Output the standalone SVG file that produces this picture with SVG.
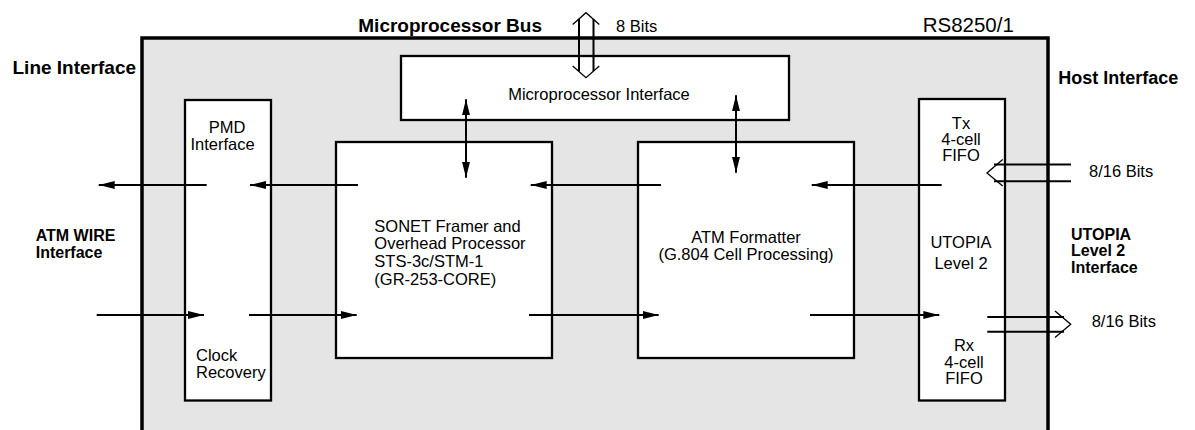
<svg xmlns="http://www.w3.org/2000/svg" width="1195" height="430" viewBox="0 0 1195 430">
  <style>
    text { font-family: "Liberation Sans", Arial, Helvetica, sans-serif; fill: #000; }
    .lbl { font-size: 16.5px; }
    .bold { font-weight: bold; }
    .chip { fill: #e5e5e5; stroke: #000; stroke-width: 3.5; }
    .blk { fill: #fff; stroke: #000; stroke-width: 2.3; }
    .wire { stroke: #000; stroke-width: 2; fill: none; }
    .bus { stroke: #000; stroke-width: 2; fill: none; }
    .chev { stroke: #000; stroke-width: 1.3; fill: none; }
  </style>
  <defs>
    <marker id="head" markerUnits="userSpaceOnUse" markerWidth="16" markerHeight="10" viewBox="0 0 16 10" refX="16" refY="5" orient="auto">
      <path d="M0,1 L16,5 L0,9 Z" fill="#000"/>
    </marker>
  </defs>

  <rect width="1195" height="430" fill="#fff"/>

  <!-- device outline -->
  <g id="device">
    <rect class="chip" x="142" y="38" width="906" height="420"/>
    <text x="922.7" y="32.3" style="font-size:20.5px">RS8250/1</text>
  </g>

  <!-- side labels -->
  <g id="labels">
    <text class="bold" x="12.5" y="73.5" style="font-size:19px">Line Interface</text>
    <text class="bold" x="358.3" y="32.3" style="font-size:19px">Microprocessor Bus</text>
    <text class="lbl" x="616" y="31.7">8 Bits</text>
    <text class="bold" x="1058.3" y="83.5" style="font-size:18px">Host Interface</text>
    <text class="bold" x="35.7" y="241" style="font-size:16px">ATM WIRE</text>
    <text class="bold" x="35.7" y="258.3" style="font-size:16px">Interface</text>
    <text class="bold" x="1071" y="239.5" style="font-size:16px">UTOPIA</text>
    <text class="bold" x="1071" y="256" style="font-size:16px">Level 2</text>
    <text class="bold" x="1071" y="272.5" style="font-size:16px">Interface</text>
    <text class="lbl" x="1089" y="176.7">8/16 Bits</text>
    <text class="lbl" x="1091.7" y="327.3">8/16 Bits</text>
  </g>

  <!-- blocks -->
  <g id="mpu-if">
    <rect class="blk" x="401" y="56" width="388" height="64"/>
    <text class="lbl" x="599" y="100" text-anchor="middle">Microprocessor Interface</text>
  </g>

  <g id="pmd">
    <rect class="blk" x="185" y="100" width="86" height="300.5"/>
    <text class="lbl" x="227" y="132.7" text-anchor="middle">PMD</text>
    <text class="lbl" x="222.5" y="150" text-anchor="middle">Interface</text>
    <text class="lbl" x="196" y="361">Clock</text>
    <text class="lbl" x="196" y="378.3">Recovery</text>
  </g>

  <g id="sonet">
    <rect class="blk" x="336" y="142" width="216" height="216"/>
    <text class="lbl" x="374.3" y="231.7">SONET Framer and</text>
    <text class="lbl" x="374.3" y="249.2">Overhead Processor</text>
    <text class="lbl" x="374.3" y="266.9">STS-3c/STM-1</text>
    <text class="lbl" x="374.3" y="284.6">(GR-253-CORE)</text>
  </g>

  <g id="atm">
    <rect class="blk" x="638" y="142" width="216" height="216"/>
    <text class="lbl" x="746" y="243.3" text-anchor="middle">ATM Formatter</text>
    <text class="lbl" x="746" y="260" text-anchor="middle">(G.804 Cell Processing)</text>
  </g>

  <g id="utopia">
    <rect class="blk" x="919" y="99" width="86" height="301.5"/>
    <text class="lbl" x="961" y="128.5" text-anchor="middle">Tx</text>
    <text class="lbl" x="961" y="145" text-anchor="middle">4-cell</text>
    <text class="lbl" x="961" y="161" text-anchor="middle">FIFO</text>
    <text class="lbl" x="961" y="248" text-anchor="middle">UTOPIA</text>
    <text class="lbl" x="961" y="269" text-anchor="middle">Level 2</text>
    <text class="lbl" x="964" y="351" text-anchor="middle">Rx</text>
    <text class="lbl" x="964" y="367.7" text-anchor="middle">4-cell</text>
    <text class="lbl" x="964" y="384.3" text-anchor="middle">FIFO</text>
  </g>

  <!-- connectors -->
  <g id="connectors">
    <!-- transmit path, right to left -->
    <line class="wire" x1="941.7" y1="185" x2="811.7" y2="185" marker-end="url(#head)"/>
    <line class="wire" x1="661" y1="185" x2="530.7" y2="185" marker-end="url(#head)"/>
    <line class="wire" x1="358" y1="185" x2="250" y2="185" marker-end="url(#head)"/>
    <line class="wire" x1="206.7" y1="185" x2="98.7" y2="185" marker-end="url(#head)"/>
    <!-- receive path, left to right -->
    <line class="wire" x1="96.7" y1="315" x2="204" y2="315" marker-end="url(#head)"/>
    <line class="wire" x1="249" y1="315" x2="356.7" y2="315" marker-end="url(#head)"/>
    <line class="wire" x1="529" y1="315" x2="658.7" y2="315" marker-end="url(#head)"/>
    <line class="wire" x1="810" y1="315" x2="939.3" y2="315" marker-end="url(#head)"/>
    <!-- register access, both directions -->
    <line class="wire" x1="466" y1="139" x2="466" y2="99.3" marker-end="url(#head)"/>
    <line class="wire" x1="466" y1="139" x2="466" y2="177.7" marker-end="url(#head)"/>
    <line class="wire" x1="736" y1="134" x2="736" y2="95.3" marker-end="url(#head)"/>
    <line class="wire" x1="736" y1="134" x2="736" y2="172.7" marker-end="url(#head)"/>

    <!-- 8-bit microprocessor bus -->
    <line class="bus" x1="579" y1="19" x2="579" y2="71"/>
    <line class="bus" x1="593.5" y1="19" x2="593.5" y2="71"/>
    <polyline class="chev" points="572.7,24.5 586,12.7 599.3,24.5"/>
    <polyline class="chev" points="572.7,66 586,77.7 599.3,66"/>

    <!-- Tx host bus (into device) -->
    <line class="bus" x1="994" y1="164.5" x2="1071" y2="164.5"/>
    <line class="bus" x1="994" y1="181.2" x2="1071" y2="181.2"/>
    <polyline class="chev" points="1002.7,159.5 987,173 1002.7,186"/>

    <!-- Rx host bus (out of device) -->
    <line class="bus" x1="987.3" y1="317" x2="1064" y2="317"/>
    <line class="bus" x1="987.3" y1="331.7" x2="1064" y2="331.7"/>
    <polyline class="chev" points="1055,311 1070.7,324.3 1055,337.5"/>
  </g>
</svg>
